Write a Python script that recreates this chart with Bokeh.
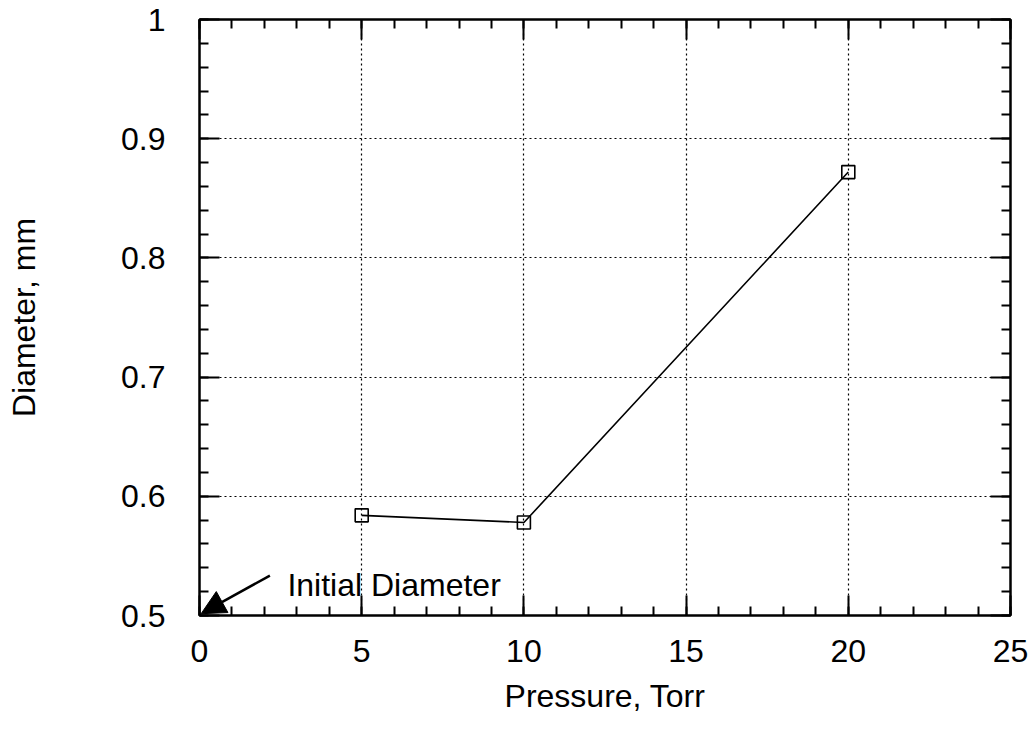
from bokeh.plotting import figure
from bokeh.models import (LinearAxis, FixedTicker, Arrow, NormalHead, Range1d, Label)
from bokeh.embed import file_html
from bokeh.resources import INLINE

pressure = [5, 10, 20]
diameter = [0.584, 0.578, 0.872]
x_ticks = [0, 5, 10, 15, 20, 25]
y_ticks = [0.5, 0.6, 0.7, 0.8, 0.9, 1.0]
x_minor = [v for v in range(0, 26)]
y_minor = [round(0.5 + 0.02 * i, 2) for i in range(26)]
note_text = "Initial Diameter"
note_pos = (2.71, 0.526)
arrow_from = (2.17, 0.5335)
arrow_to = (0.05, 0.5015)

FONT = "Liberation Sans"
FS = "32px"

p = figure(width=1036, height=734, output_backend="svg", toolbar_location=None,
           x_range=Range1d(0, 25), y_range=Range1d(0.5, 1.0),
           min_border_left=199, min_border_top=19, min_border_right=26, min_border_bottom=119,
           x_axis_label="Pressure, Torr", y_axis_label="Diameter, mm")
p.background_fill_color = "white"
p.border_fill_color = "white"
p.outline_line_color = "black"
p.outline_line_width = 2

def style_axis(ax, ticks, minor, labels=True):
    ax.ticker = FixedTicker(ticks=ticks, minor_ticks=minor)
    ax.major_tick_in = 20
    ax.major_tick_out = 0
    ax.minor_tick_in = 9
    ax.minor_tick_out = 0
    ax.major_tick_line_color = "black"
    ax.minor_tick_line_color = "black"
    ax.major_tick_line_width = 2
    ax.minor_tick_line_width = 2
    ax.axis_line_color = "black"
    ax.axis_line_width = 2
    ax.major_label_text_font = FONT
    ax.major_label_text_font_size = FS
    ax.major_label_text_color = "black"
    ax.axis_label_text_font = FONT
    ax.axis_label_text_font_size = FS
    ax.axis_label_text_font_style = "normal"
    ax.axis_label_text_color = "black"
    if not labels:
        ax.major_label_text_font_size = "0px"
        ax.major_label_text_alpha = 0

style_axis(p.xaxis[0], x_ticks, x_minor)
style_axis(p.yaxis[0], y_ticks, y_minor)
p.xaxis[0].major_label_standoff = 24
p.xaxis[0].axis_label_standoff = 13
p.yaxis[0].major_label_standoff = 34
p.yaxis[0].axis_label_standoff = 76
p.yaxis[0].major_label_overrides = {1.0: "1", 1: "1"}

top = LinearAxis()
right = LinearAxis()
style_axis(top, x_ticks, x_minor, labels=False)
style_axis(right, y_ticks, y_minor, labels=False)
p.add_layout(top, "above")
p.add_layout(right, "right")

p.xgrid.ticker = FixedTicker(ticks=x_ticks)
p.ygrid.ticker = FixedTicker(ticks=y_ticks)
for g in (p.xgrid[0], p.ygrid[0]):
    g.grid_line_color = "black"
    g.grid_line_dash = "2 3"
    g.grid_line_width = 1.2

p.line(pressure, diameter, line_color="black", line_width=1.6)
p.scatter(pressure, diameter, marker="square", size=13, fill_color=None,
          line_color="black", line_width=1.6)

p.add_layout(Arrow(end=NormalHead(size=24, fill_color="black", line_color="black", line_width=1),
                   x_start=arrow_from[0], y_start=arrow_from[1],
                   x_end=arrow_to[0], y_end=arrow_to[1],
                   line_color="black", line_width=2.5))
p.add_layout(Label(x=note_pos[0], y=note_pos[1], text=note_text,
                   text_font=FONT, text_font_size=FS, text_color="black",
                   text_baseline="alphabetic", text_align="left"))

open("out.html", "w").write(file_html(p, INLINE))
